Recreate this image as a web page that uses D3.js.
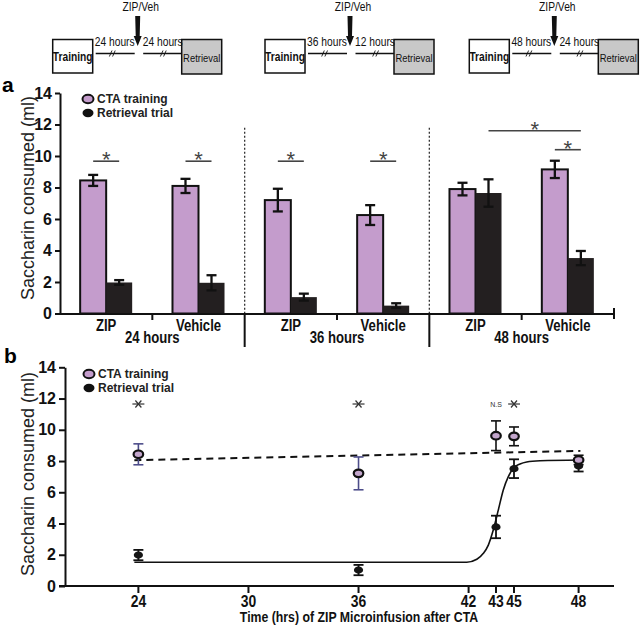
<!DOCTYPE html>
<html><head><meta charset="utf-8">
<script src="https://cdn.jsdelivr.net/npm/d3@7"></script>
<style>
body{margin:0;background:#fff;}
svg{display:block;}
text{font-family:"Liberation Sans",Arial,sans-serif;}
</style>
</head><body>
<script>
// ---------- DATA ----------
// Schematic labels
const schemeBefore = ["24 hours", "36 hours", "48 hours"];
const schemeAfter  = ["24 hours", "12 hours", "24 hours"];

// Panel a
const groupsA = ["24 hours", "36 hours", "48 hours"];
const treatmentsA = ["ZIP", "Vehicle"];
const ctaA    = [8.45, 8.10, 7.20, 6.25, 7.90, 9.15];
const ctaAErr = [0.35, 0.45, 0.72, 0.63, 0.40, 0.55];
const retA    = [1.97, 1.95, 1.04, 0.50, 7.65, 3.52];
const retAErr = [0.15, 0.48, 0.22, 0.15, 0.87, 0.45];
const yTicksA = [0, 2, 4, 6, 8, 10, 12, 14];
// significance: [subgroup index from, series from, subgroup index to, series to, y value]
const sigA = [
  [0, "cta", 0, "ret", 9.67],
  [1, "cta", 1, "ret", 9.67],
  [2, "cta", 2, "ret", 9.67],
  [3, "cta", 3, "ret", 9.67],
  [5, "cta", 5, "ret", 10.4],
  [4, "ret", 5, "ret", 11.6]
];

// Panel b
const timesB   = [24, 36, 43, 45, 48];
const ctaB     = [8.43, 7.21, 9.62, 9.58, 8.07];
const ctaBErr  = [0.67, 1.05, 0.95, 0.60, 0.30];
const retB     = [1.98, 1.02, 3.78, 7.51, 7.68];
const retBErr  = [0.33, 0.33, 0.72, 0.60, 0.35];
const xTicksB  = [24, 30, 36, 42, 43, 45, 48];
const yTicksB  = [0, 2, 4, 6, 8, 10, 12, 14];
const fitCtaX  = [23.78, 48.1];
const fitCtaY  = [8.05, 8.65];
const fitRetX  = [23.78, 41.90, 42.30, 42.54, 42.72, 42.90, 43.26, 43.81, 44.37, 44.92, 45.28, 45.59, 46.21, 48.07];
const fitRetY  = [1.52, 1.52, 1.71, 2.09, 2.62, 3.58, 4.87, 6.15, 7.00, 7.53, 7.81, 7.94, 8.02, 8.07];
const starTimesB = [24, 36, 45];
const nsTimesB = [43];
const starY = 11.65;

// ---------- STYLE ----------
const lav = "#c49ccc", lavB = "#c3a6cc", dark = "#231f20";
const NARROW = 0.82;

const svg = d3.select("body").append("svg").attr("width", 640).attr("height", 631);

// condensed text helper (Arial Narrow look)
function ntext(parent, x, y, str, size, weight, anchor) {
  return parent.append("text")
    .attr("transform", `translate(${x},${y}) scale(${NARROW},1)`)
    .attr("text-anchor", anchor || "middle")
    .attr("font-size", size).attr("font-weight", weight || "normal")
    .attr("fill", "#111").text(str);
}

// ---------- SCHEMATIC ----------
const origins = [52.7, 265, 469.3];
schemeBefore.forEach((b, i) => {
  const g = svg.append("g").attr("transform", `translate(${origins[i]},0)`);
  g.append("rect").attr("x", 0).attr("y", 39.5).attr("width", 40).attr("height", 33.5)
    .attr("fill", "#fff").attr("stroke", "#111").attr("stroke-width", 1.5);
  ntext(g, 20, 61, "Training", 12.5, "bold");
  g.append("rect").attr("x", 129).attr("y", 39.5).attr("width", 40).attr("height", 34.5)
    .attr("fill", "#c8c8c8").attr("stroke", "#111").attr("stroke-width", 1.5);
  ntext(g, 149, 61.5, "Retrieval", 11.5, "normal");
  g.append("line").attr("x1", 43).attr("x2", 82).attr("y1", 53.5).attr("y2", 53.5).attr("stroke", "#111").attr("stroke-width", 1.3);
  g.append("line").attr("x1", 90.5).attr("x2", 129).attr("y1", 53.5).attr("y2", 53.5).attr("stroke", "#111").attr("stroke-width", 1.3);
  [59.6, 110.6].forEach(cx => {
    [-1.6, 1.6].forEach(d => {
      g.append("line").attr("x1", cx + d - 1.3).attr("y1", 56.5).attr("x2", cx + d + 1.3).attr("y2", 50.5)
        .attr("stroke", "#111").attr("stroke-width", 0.9);
    });
  });
  g.append("path").attr("d", "M82.5,16 L87.5,16 L87,36 L89,36 L85,46 L81,36 L83,36 Z").attr("fill", "#111");
  ntext(g, 88, 11, "ZIP/Veh", 12.5, "normal");
  ntext(g, 62, 45.5, b, 12.5, "normal");
  ntext(g, 110, 45.5, schemeAfter[i], 12.5, "normal");
});

// ---------- PANEL A ----------
svg.append("text").attr("x", 2).attr("y", 92).attr("font-size", 21).attr("font-weight", "bold").text("a");

const subgroups = groupsA.flatMap(g => treatmentsA.map(t => g + "|" + t));
const x0 = d3.scaleBand(subgroups, [60, 614]);
const x1 = d3.scaleBand(["cta", "ret"], [0, x0.bandwidth()]).paddingOuter(0.775);
const ya = d3.scaleLinear([0, 14], [313.5, 93]);
const cx = (i, s) => x0(subgroups[i]) + x1(s) + x1.bandwidth() / 2;

// dotted separators
[1, 2].forEach(gi => {
  const xs = x0(groupsA[gi] + "|ZIP");
  svg.append("line").attr("x1", xs).attr("x2", xs).attr("y1", ya(11.8)).attr("y2", ya(0))
    .attr("stroke", "#333").attr("stroke-width", 1.3).attr("stroke-dasharray", "2,2");
});

// bars
const ga = svg.append("g");
subgroups.forEach((sg, i) => {
  ga.append("rect").attr("x", x0(sg) + x1("cta")).attr("y", ya(ctaA[i]))
    .attr("width", x1.bandwidth()).attr("height", ya(0) - ya(ctaA[i]))
    .attr("fill", lav).attr("stroke", "#111").attr("stroke-width", 2);
  ga.append("rect").attr("x", x0(sg) + x1("ret")).attr("y", ya(retA[i]))
    .attr("width", x1.bandwidth()).attr("height", ya(0) - ya(retA[i]))
    .attr("fill", dark);
});
// error bars
function errBar(g, x, y0, y1, col, w, cap) {
  g.append("line").attr("x1", x).attr("x2", x).attr("y1", y0).attr("y2", y1).attr("stroke", col).attr("stroke-width", w);
  [y0, y1].forEach(y => g.append("line").attr("x1", x - cap).attr("x2", x + cap).attr("y1", y).attr("y2", y).attr("stroke", col).attr("stroke-width", w));
}
subgroups.forEach((sg, i) => {
  errBar(ga, cx(i, "cta"), ya(ctaA[i] - ctaAErr[i]), ya(ctaA[i] + ctaAErr[i]), "#111", 2.3, 5);
  errBar(ga, cx(i, "ret"), ya(retA[i] - retAErr[i]), ya(retA[i] + retAErr[i]), "#111", 2.3, 5);
});

// significance
sigA.forEach(([i0, s0, i1, s1, v]) => {
  const xa = cx(i0, s0), xb = cx(i1, s1), y = ya(v);
  svg.append("line").attr("x1", xa).attr("x2", xb).attr("y1", y).attr("y2", y).attr("stroke", "#444").attr("stroke-width", 1.6);
  svg.append("text").attr("x", (xa + xb) / 2).attr("y", y + 6).attr("text-anchor", "middle")
    .attr("font-size", 22).attr("fill", "#444").text("*");
});

// y axis a
const yAxA = svg.append("g").attr("transform", "translate(60,0)")
  .call(d3.axisLeft(ya).tickValues(yTicksA).tickSize(5).tickSizeOuter(0).tickPadding(3));
yAxA.selectAll("path,line").attr("stroke", "#111").attr("stroke-width", 2);
yAxA.selectAll("text").attr("font-size", 16).attr("font-weight", "bold").attr("fill", "#111");

// x axis a
svg.append("line").attr("x1", 59).attr("x2", 615).attr("y1", 314).attr("y2", 314).attr("stroke", "#111").attr("stroke-width", 2);
groupsA.forEach((g, gi) => {
  const xv = x0(g + "|Vehicle");
  svg.append("line").attr("x1", xv).attr("x2", xv).attr("y1", 314).attr("y2", 320).attr("stroke", "#111").attr("stroke-width", 2);
  if (gi > 0) {
    const xz = x0(g + "|ZIP");
    svg.append("line").attr("x1", xz).attr("x2", xz).attr("y1", 314).attr("y2", 347).attr("stroke", "#111").attr("stroke-width", 2);
  }
  ntext(svg, xv, 343, g, 16, "bold");
});
svg.append("line").attr("x1", 614).attr("x2", 614).attr("y1", 308).attr("y2", 319).attr("stroke", "#111").attr("stroke-width", 2);
subgroups.forEach(sg => {
  ntext(svg, x0(sg) + x0.bandwidth() / 2, 330.5, sg.split("|")[1], 16, "bold");
});

// y title a
svg.append("text").attr("transform", "translate(34,198) rotate(-90)").attr("text-anchor", "middle")
  .attr("font-size", 18).attr("fill", "#222").text("Saccharin consumed (ml)");

// legend
function legend(x, y) {
  svg.append("ellipse").attr("cx", x).attr("cy", y).attr("rx", 5.5).attr("ry", 4.2).attr("fill", lav).attr("stroke", "#111").attr("stroke-width", 2);
  svg.append("text").attr("x", x + 9).attr("y", y + 4.3).attr("font-size", 12).attr("font-weight", "bold").attr("fill", "#222").text("CTA training");
  svg.append("ellipse").attr("cx", x).attr("cy", y + 14).attr("rx", 5.5).attr("ry", 4.2).attr("fill", "#111");
  svg.append("text").attr("x", x + 9).attr("y", y + 18.3).attr("font-size", 12).attr("font-weight", "bold").attr("fill", "#222").text("Retrieval trial");
}
legend(88, 99);

// ---------- PANEL B ----------
svg.append("text").attr("x", 4).attr("y", 363).attr("font-size", 21).attr("font-weight", "bold").text("b");

const xb = d3.scaleLinear().domain([20, 42, 43, 45, 48, 50]).range([65, 468.6, 496, 514, 578.6, 615.3]);
const yb = d3.scaleLinear([0, 14], [586, 367.3]);

// fits
svg.append("path").datum(fitCtaX.map((x, i) => [x, fitCtaY[i]]))
  .attr("d", d3.line().x(d => xb(d[0])).y(d => yb(d[1])))
  .attr("fill", "none").attr("stroke", "#111").attr("stroke-width", 2).attr("stroke-dasharray", "7,5");
svg.append("path").datum(fitRetX.map((x, i) => [x, fitRetY[i]]))
  .attr("d", d3.line().x(d => xb(d[0])).y(d => yb(d[1])).curve(d3.curveMonotoneX))
  .attr("fill", "none").attr("stroke", "#111").attr("stroke-width", 1.6);

// axes b
svg.append("line").attr("x1", 59).attr("x2", 614).attr("y1", 586).attr("y2", 586).attr("stroke", "#111").attr("stroke-width", 2);
xTicksB.forEach(t => {
  svg.append("line").attr("x1", xb(t)).attr("x2", xb(t)).attr("y1", 586).attr("y2", 593).attr("stroke", "#111").attr("stroke-width", 2);
  ntext(svg, xb(t), 607, t, 17, "bold");
});
const yAxB = svg.append("g").attr("transform", "translate(65,0)")
  .call(d3.axisLeft(yb).tickValues(yTicksB).tickSize(6).tickSizeOuter(0).tickPadding(3));
yAxB.selectAll("path,line").attr("stroke", "#111").attr("stroke-width", 2);
yAxB.selectAll("text").attr("font-size", 16).attr("font-weight", "bold").attr("fill", "#111");

ntext(svg, 359, 622, "Time (hrs) of ZIP Microinfusion after CTA", 15, "bold");
svg.append("text").attr("transform", "translate(34,474) rotate(-90)").attr("text-anchor", "middle")
  .attr("font-size", 18).attr("fill", "#222").text("Saccharin consumed (ml)");

// error bars + markers
const gb = svg.append("g");
timesB.forEach((t, i) => {
  errBar(gb, xb(t), yb(retB[i] - retBErr[i]), yb(retB[i] + retBErr[i]), "#111", 1.8, 5);
});
timesB.forEach((t, i) => {
  const col = (t === 24 || t === 36) ? "#4d4d8a" : "#111";
  errBar(gb, xb(t), yb(ctaB[i] - ctaBErr[i]), yb(ctaB[i] + ctaBErr[i]), col, 1.6, 5);
});
timesB.forEach((t, i) => {
  gb.append("ellipse").attr("cx", xb(t)).attr("cy", yb(retB[i])).attr("rx", 4.6).attr("ry", 3.6).attr("fill", "#151515");
});
timesB.forEach((t, i) => {
  gb.append("ellipse").attr("cx", xb(t)).attr("cy", yb(ctaB[i])).attr("rx", 4.8).attr("ry", 3.8)
    .attr("fill", lavB).attr("stroke", "#111").attr("stroke-width", 2.2);
});

// stars b
starTimesB.forEach(t => {
  const x = xb(t), y = yb(starY);
  const g = svg.append("g").attr("stroke", "#333").attr("stroke-width", 1.2);
  g.append("line").attr("x1", x - 6).attr("x2", x + 6).attr("y1", y).attr("y2", y);
  g.append("line").attr("x1", x - 3).attr("x2", x + 3).attr("y1", y - 3.5).attr("y2", y + 3.5);
  g.append("line").attr("x1", x - 3).attr("x2", x + 3).attr("y1", y + 3.5).attr("y2", y - 3.5);
});
nsTimesB.forEach(t => {
  svg.append("text").attr("x", xb(t)).attr("y", yb(starY) + 2.5).attr("text-anchor", "middle")
    .attr("font-size", 7).attr("fill", "#333").text("N.S");
});

legend(89, 374);
</script>
</body></html>
